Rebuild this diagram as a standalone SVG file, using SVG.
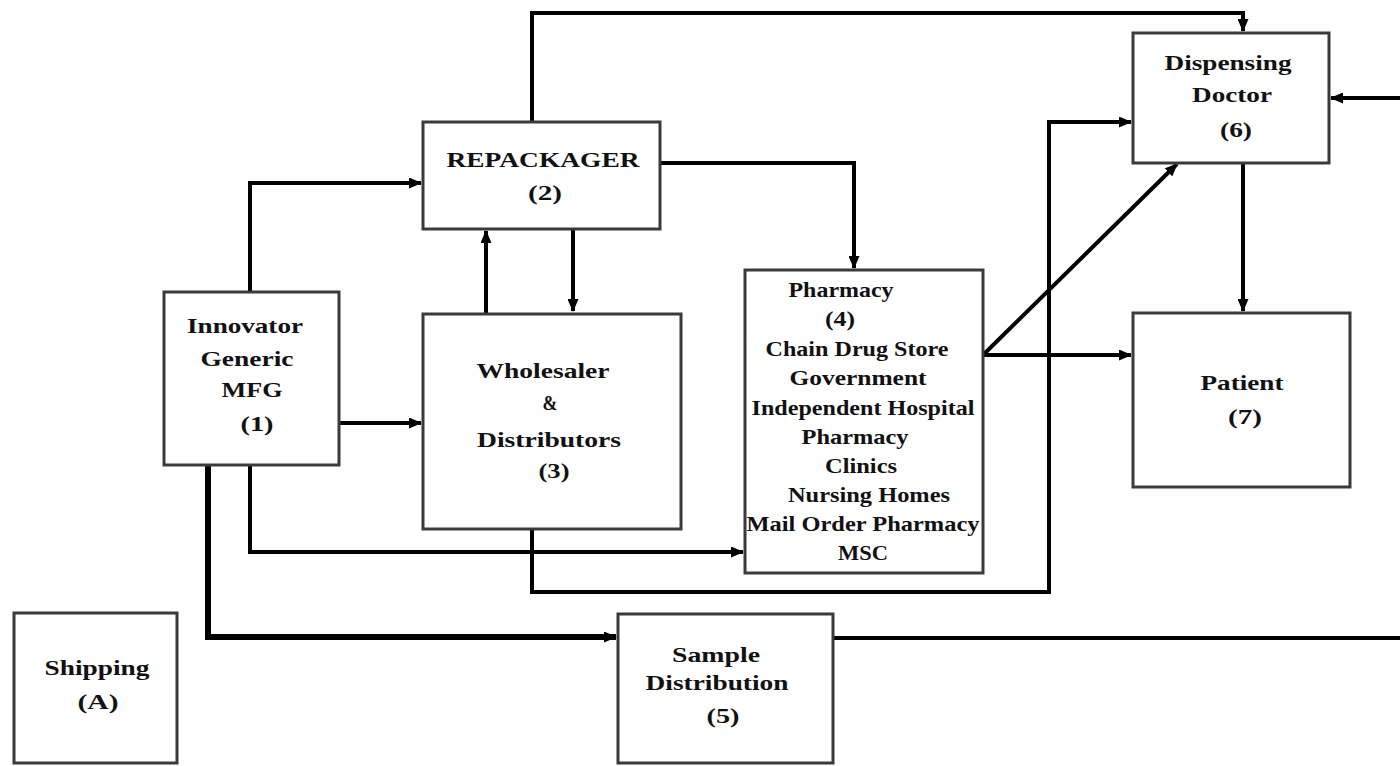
<svg xmlns="http://www.w3.org/2000/svg" width="1400" height="766" viewBox="0 0 1400 766">
<defs>
<style>
.box{fill:#fff;stroke:#3a3a3a;stroke-width:3}
.t{font-family:"Liberation Serif","Times New Roman",serif;font-weight:bold;font-size:21px;fill:#111;text-anchor:middle}
.c{fill:none;stroke:#000;stroke-width:4;stroke-linejoin:miter}
.thick{stroke-width:6}
</style>
<marker id="ah" viewBox="0 0 13 11" markerWidth="13" markerHeight="11" refX="12" refY="5.5" orient="auto" markerUnits="userSpaceOnUse">
<path d="M0,0 L13,5.5 L0,11 z" fill="#000"/>
</marker>
</defs>
<rect width="1400" height="766" fill="#fff"/>

<g id="connectors">
<path class="c" d="M250,292 V183 H421" marker-end="url(#ah)"/>
<path class="c" d="M532,122 V13 H1243 V31" marker-end="url(#ah)"/>
<path class="c" d="M660,163 H854 V268" marker-end="url(#ah)"/>
<path class="c" d="M486,313 V231" marker-end="url(#ah)"/>
<path class="c" d="M573,229 V311" marker-end="url(#ah)"/>
<path class="c" d="M339,423 H421" marker-end="url(#ah)"/>
<path class="c" d="M250,465 V552 H743" marker-end="url(#ah)"/>
<path class="c thick" d="M208,465 V637 H616" marker-end="url(#ah)"/>
<path class="c" d="M532,529 V592 H1049 V122 H1131" marker-end="url(#ah)"/>
<path class="c" d="M983,355 H1131" marker-end="url(#ah)"/>
<path class="c" d="M983,355 L1177,164" marker-end="url(#ah)"/>
<path class="c" d="M1243,163 V311" marker-end="url(#ah)"/>
<path class="c" d="M833,638 H1400"/>
<path class="c" d="M1400,98 H1331" marker-end="url(#ah)"/>
</g>

<g id="n1">
<rect class="box" x="164" y="292" width="175" height="173"/>
<text class="t" x="245" y="333" textLength="116" lengthAdjust="spacingAndGlyphs">Innovator</text>
<text class="t" x="247" y="366" textLength="93" lengthAdjust="spacingAndGlyphs">Generic</text>
<text class="t" x="252" y="397" textLength="61" lengthAdjust="spacingAndGlyphs">MFG</text>
<text class="t" x="257" y="431" textLength="33" lengthAdjust="spacingAndGlyphs">(1)</text>
</g>

<g id="n2">
<rect class="box" x="423" y="122" width="237" height="107"/>
<text class="t" x="543" y="167" textLength="193" lengthAdjust="spacingAndGlyphs">REPACKAGER</text>
<text class="t" x="545" y="200" textLength="34" lengthAdjust="spacingAndGlyphs">(2)</text>
</g>

<g id="n3">
<rect class="box" x="423" y="314" width="258" height="215"/>
<text class="t" x="543" y="378" textLength="133" lengthAdjust="spacingAndGlyphs">Wholesaler</text>
<text class="t" x="550" y="410" textLength="15" lengthAdjust="spacingAndGlyphs">&amp;</text>
<text class="t" x="549" y="447" textLength="144" lengthAdjust="spacingAndGlyphs">Distributors</text>
<text class="t" x="554" y="478" textLength="31" lengthAdjust="spacingAndGlyphs">(3)</text>
</g>

<g id="n4">
<rect class="box" x="745" y="270" width="238" height="303"/>
<text class="t" x="841" y="297" textLength="105" lengthAdjust="spacingAndGlyphs">Pharmacy</text>
<text class="t" x="840" y="326" textLength="30" lengthAdjust="spacingAndGlyphs">(4)</text>
<text class="t" x="857" y="356" textLength="183" lengthAdjust="spacingAndGlyphs">Chain Drug Store</text>
<text class="t" x="858" y="385" textLength="137" lengthAdjust="spacingAndGlyphs">Government</text>
<text class="t" x="863" y="415" textLength="223" lengthAdjust="spacingAndGlyphs">Independent Hospital</text>
<text class="t" x="855" y="444" textLength="107" lengthAdjust="spacingAndGlyphs">Pharmacy</text>
<text class="t" x="861" y="473" textLength="72" lengthAdjust="spacingAndGlyphs">Clinics</text>
<text class="t" x="869" y="502" textLength="162" lengthAdjust="spacingAndGlyphs">Nursing Homes</text>
<text class="t" x="863" y="531" textLength="233" lengthAdjust="spacingAndGlyphs">Mail Order Pharmacy</text>
<text class="t" x="863" y="560" textLength="50" lengthAdjust="spacingAndGlyphs">MSC</text>
</g>

<g id="n6">
<rect class="box" x="1133" y="33" width="196" height="130"/>
<text class="t" x="1228" y="70" textLength="127" lengthAdjust="spacingAndGlyphs">Dispensing</text>
<text class="t" x="1232" y="102" textLength="80" lengthAdjust="spacingAndGlyphs">Doctor</text>
<text class="t" x="1236" y="137" textLength="32" lengthAdjust="spacingAndGlyphs">(6)</text>
</g>

<g id="n7">
<rect class="box" x="1133" y="313" width="217" height="174"/>
<text class="t" x="1242" y="390" textLength="83" lengthAdjust="spacingAndGlyphs">Patient</text>
<text class="t" x="1245" y="424" textLength="34" lengthAdjust="spacingAndGlyphs">(7)</text>
</g>

<g id="nA">
<rect class="box" x="14" y="613" width="163" height="150"/>
<text class="t" x="97" y="675" textLength="105" lengthAdjust="spacingAndGlyphs">Shipping</text>
<text class="t" x="98" y="709" textLength="41" lengthAdjust="spacingAndGlyphs">(A)</text>
</g>

<g id="n5">
<rect class="box" x="618" y="614" width="215" height="149"/>
<text class="t" x="716" y="662" textLength="88" lengthAdjust="spacingAndGlyphs">Sample</text>
<text class="t" x="717" y="690" textLength="143" lengthAdjust="spacingAndGlyphs">Distribution</text>
<text class="t" x="723" y="723" textLength="33" lengthAdjust="spacingAndGlyphs">(5)</text>
</g>
</svg>
